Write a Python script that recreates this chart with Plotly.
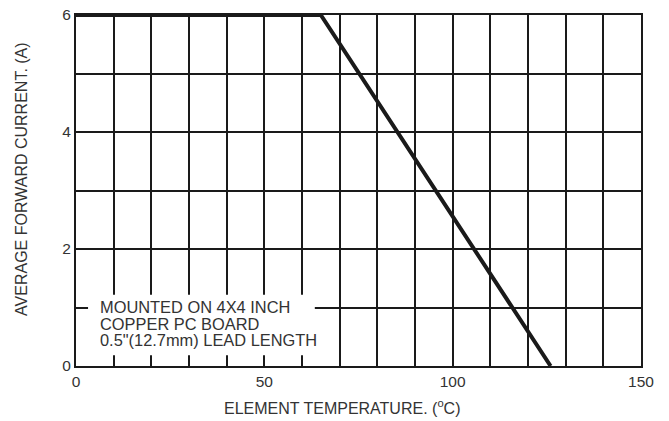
import plotly.graph_objects as go

# Data
temperature = [0, 65, 126]
current = [6, 6, 0]
x_tick_vals = [0, 50, 100, 150]
y_tick_vals = [0, 2, 4, 6]
note_lines = ["MOUNTED ON 4X4 INCH", "COPPER PC BOARD", "0.5\"(12.7mm) LEAD LENGTH"]
x_title = "ELEMENT TEMPERATURE. (<sup>o</sup>C)"
y_title = "AVERAGE FORWARD CURRENT. (A)"

FONT = "Liberation Sans, Arial, sans-serif"
TXT = "#333333"

fig = go.Figure()
fig.add_trace(go.Scatter(
    x=temperature, y=current, mode="lines",
    line=dict(color="#1a1a1a", width=4), cliponaxis=False,
    hoverinfo="skip", showlegend=False))

# white box behind note
fig.add_shape(type="rect", xref="x", yref="y", x0=3.2, x1=63.4, y0=0.183, y1=1.217,
              fillcolor="white", line=dict(width=0), layer="above")

note_y = [1.017, 0.725, 0.44]
for txt, yy in zip(note_lines, note_y):
    fig.add_annotation(x=5.8, y=yy, xref="x", yref="y", text=txt, showarrow=False,
                       xanchor="left", yanchor="middle",
                       font=dict(family=FONT, size=16.4, color=TXT))

fig.add_annotation(x=0.471, y=-0.1167, xref="paper", yref="paper", text=x_title,
                   showarrow=False, xanchor="center", yanchor="middle",
                   font=dict(family=FONT, size=16, color=TXT))
fig.add_annotation(x=-0.0956, y=0.533, xref="paper", yref="paper", text=y_title,
                   showarrow=False, xanchor="center", yanchor="middle", textangle=-90,
                   font=dict(family=FONT, size=16, color=TXT))

fig.update_layout(
    width=669, height=421,
    margin=dict(l=76, r=28, t=6, b=55),
    plot_bgcolor="white", paper_bgcolor="white",
    font=dict(family=FONT, size=15.5, color=TXT),
    xaxis=dict(range=[0, 150], tickvals=x_tick_vals, showgrid=True, gridcolor="#1a1a1a",
               gridwidth=1.5, showline=True, linecolor="#1a1a1a", linewidth=2, mirror=True,
               zeroline=False, ticks="", fixedrange=True, ticklabeloverflow="allow",
               minor=dict(dtick=10, showgrid=True, gridcolor="#1a1a1a", gridwidth=1.5)),
    yaxis=dict(range=[0, 6], tickvals=y_tick_vals, showgrid=True, gridcolor="#1a1a1a",
               gridwidth=1.5, showline=True, linecolor="#1a1a1a", linewidth=2, mirror=True,
               zeroline=False, ticks="", fixedrange=True, ticklabeloverflow="allow",
               minor=dict(dtick=1, showgrid=True, gridcolor="#1a1a1a", gridwidth=1.5)),
)

fig.write_html("out.html", config={"displayModeBar": False},
               post_script="document.body.style.margin='0';")
